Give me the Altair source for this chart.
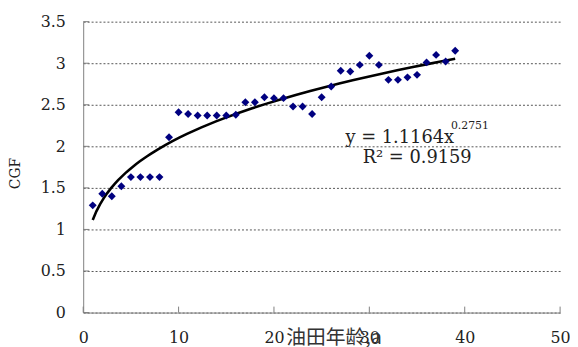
import altair as alt
import pandas as pd

# ---- data ----
age = list(range(1, 40))
cgf = [1.29, 1.43, 1.40, 1.52, 1.63, 1.63, 1.63, 1.63, 2.11,
       2.41, 2.39, 2.37, 2.37, 2.37, 2.37, 2.38,
       2.53, 2.53, 2.59, 2.58, 2.58, 2.48, 2.48, 2.39,
       2.59, 2.72, 2.91, 2.90, 2.98, 3.09, 2.98, 2.80, 2.80, 2.83, 2.86,
       3.01, 3.10, 3.02, 3.15]
x_ticks = [0, 10, 20, 30, 40, 50]
y_ticks = [0, 0.5, 1, 1.5, 2, 2.5, 3, 3.5]

eq_main = "y = 1.1164x"
eq_exp = "0.2751"
eq_r2 = "R\u00b2 = 0.9159"
x_title = "油田年龄,a"
y_title = "CGF"

SERIF = "DejaVu Serif"
CJK = "Noto Sans CJK SC"
W, H = 482, 294

df = pd.DataFrame({"age": age, "cgf": cgf})

xs = alt.Scale(domain=[0, 50], nice=False, zero=False)
ys = alt.Scale(domain=[0, 3.5], nice=False)

x_axis = alt.Axis(values=x_ticks, grid=False, ticks=False, tickSize=0,
                  domainColor="#808080", labelFont=SERIF, labelFontSize=16,
                  labelColor="#222", labelPadding=17, labelFlush=False,
                  title=x_title, titleFont=CJK, titleFontSize=20,
                  titleFontWeight="normal", titleColor="#333",
                  titleX=253, titleY=15, titleBaseline="top", titleAlign="center")
y_axis = alt.Axis(values=y_ticks, format="~g", grid=True, gridDash=[2, 2],
                  gridColor="#555", gridWidth=1, ticks=False, tickSize=0,
                  domainColor="#808080", labelFont=SERIF, labelFontSize=16,
                  labelColor="#222", labelPadding=18,
                  title=y_title, titleFont=SERIF, titleFontSize=14,
                  titleFontWeight="normal", titleColor="#222",
                  titleX=-68, titleY=153, titleAngle=270,
                  titleAlign="center", titleBaseline="middle")

base = alt.Chart(df)

points = base.mark_point(shape="diamond", filled=True, size=64,
                         color="#000080", opacity=1).encode(
    x=alt.X("age:Q", scale=xs, axis=x_axis),
    y=alt.Y("cgf:Q", scale=ys, axis=y_axis),
)

fit = base.transform_regression("age", "cgf", method="pow", extent=[1, 39]).mark_line(
    color="black", strokeWidth=2.6).encode(
    x=alt.X("age:Q", scale=xs),
    y=alt.Y("cgf:Q", scale=ys),
)

xt = alt.Chart(pd.DataFrame({"v": x_ticks})).mark_rule(color="#808080").encode(
    x=alt.X("v:Q", scale=xs), y=alt.value(H), y2=alt.value(H - 6))
yt = alt.Chart(pd.DataFrame({"v": y_ticks})).mark_rule(color="#808080").encode(
    y=alt.Y("v:Q", scale=ys), x=alt.value(0), x2=alt.value(6))

ann = pd.DataFrame({
    "x": [27.5, 38.55, 29.3],
    "y": [2.036, 2.214, 1.80],
    "t": [eq_main, eq_exp, eq_r2],
    "s": [18, 11, 18],
})
text = alt.Chart(ann).mark_text(align="left", baseline="alphabetic", font=SERIF,
                                color="#222").encode(
    x=alt.X("x:Q", scale=xs), y=alt.Y("y:Q", scale=ys), text="t:N",
    size=alt.Size("s:Q", scale=None, legend=None))

chart = alt.layer(xt, yt, fit, points, text).properties(
    width=W, height=H, autosize="none",
    padding={"left": 76, "top": 12, "right": 10, "bottom": 33},
).configure_view(strokeWidth=0)

chart.save("out.html", embed_options={"renderer": "svg", "actions": False})
